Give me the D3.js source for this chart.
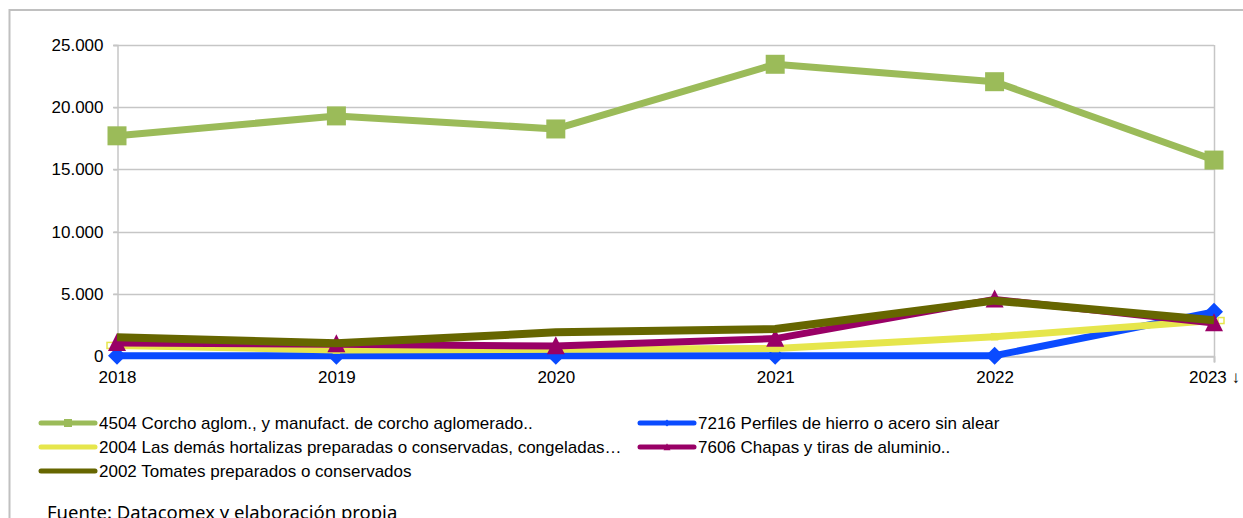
<!DOCTYPE html>
<html>
<head>
<meta charset="utf-8">
<script src="https://cdn.jsdelivr.net/npm/d3@7"></script>
<style>
  body { margin: 0; background: #fff; }
  svg { display: block; }
  .tick text { font-family: "Liberation Sans", Arial, sans-serif; font-size: 17px; fill: #000; }
  .legend text { font-family: "Liberation Sans", Arial, sans-serif; font-size: 17px; fill: #000; }
  .source { font-family: "Noto Sans", sans-serif; font-size: 18.5px; fill: #000; }
</style>
</head>
<body>
<svg width="1243" height="518"></svg>
<script>
// **** Data ****
var years = ["2018", "2019", "2020", "2021", "2022", "2023"];
var yearLabels = ["2018", "2019", "2020", "2021", "2022", "2023 \u2193"];
var yTicks = [0, 5000, 10000, 15000, 20000, 25000];

var corcho = [17700, 19300, 18250, 23450, 22050, 15750];   // 4504
var perfiles = [30, 30, 30, 30, 30, 3550];                 // 7216
var hortalizas = [850, 480, 540, 600, 1550, 2850];         // 2004
var chapas = [1050, 950, 800, 1400, 4550, 2650];           // 7606
var tomates = [1500, 1020, 1900, 2170, 4450, 2880];        // 2002

var seriesNames = [
  "4504 Corcho aglom., y manufact. de corcho aglomerado..",
  "7216 Perfiles de hierro o acero sin alear",
  "2004 Las dem\u00e1s hortalizas preparadas o conservadas, congeladas\u2026",
  "7606 Chapas y tiras de aluminio..",
  "2002 Tomates preparados o conservados"
];

// series built from the arrays above (draw order = excel order)
var series = [
  { name: seriesNames[0], values: corcho, color: "#9bbb59", marker: "square", width: 7 },
  { name: seriesNames[1], values: perfiles, color: "#0a4bff", marker: "diamond", width: 7 },
  { name: seriesNames[2], values: hortalizas, color: "#e6e64c", marker: "small", width: 7 },
  { name: seriesNames[3], values: chapas, color: "#990066", marker: "triangle", width: 7 },
  { name: seriesNames[4], values: tomates, color: "#666600", marker: "none", width: 8 }
];

var svg = d3.select("svg");

// outer chart border (right and bottom run off the picture)
svg.append("rect")
  .attr("x", 9.5).attr("y", 10)
  .attr("width", 1300).attr("height", 600)
  .attr("fill", "none")
  .attr("stroke", "#c0c0c0")
  .attr("stroke-width", 2);

// **** Scales ****
var x = d3.scalePoint()
  .domain(years)
  .range([117, 1214]);

var y = d3.scaleLinear()
  .domain([0, 25000])
  .range([356, 45]);

// gridlines
svg.append("g")
  .selectAll("line")
  .data(yTicks)
  .enter()
  .append("line")
  .attr("x1", 113).attr("x2", 1214)
  .attr("y1", d => Math.round(y(d)) + 0.5)
  .attr("y2", d => Math.round(y(d)) + 0.5)
  .attr("stroke", "#c6c6c6")
  .attr("stroke-width", 1.5);

// right border of plot area
svg.append("line")
  .attr("x1", 1214.5).attr("x2", 1214.5)
  .attr("y1", 45).attr("y2", 362)
  .attr("stroke", "#c6c6c6")
  .attr("stroke-width", 1.5);

// Y axis
var yAxis = d3.axisLeft(y)
  .tickValues(yTicks)
  .tickSize(4)
  .tickPadding(10)
  .tickFormat(d => d3.format(",")(d).replace(/,/g, "."));
var gy = svg.append("g")
  .attr("transform", "translate(117.5,0)")
  .call(yAxis);
gy.select(".domain").attr("stroke", "#c6c6c6").attr("stroke-width", 1.5);
gy.selectAll(".tick line").attr("stroke", "#c6c6c6").attr("stroke-width", 1.5);

// X axis
var xAxis = d3.axisBottom(x)
  .tickSize(6)
  .tickPadding(8)
  .tickFormat((d, i) => yearLabels[i]);
var gx = svg.append("g")
  .attr("transform", "translate(0,356.5)")
  .call(xAxis);
gx.select(".domain").attr("stroke", "#c6c6c6").attr("stroke-width", 1.5);
gx.selectAll(".tick line").attr("stroke", "#c6c6c6").attr("stroke-width", 1.5);

// **** Lines and markers ****
var line = d3.line()
  .x((d, i) => x(years[i]))
  .y(d => y(d));

function markerPath(type, size) {
  if (type === "square") return d3.symbol(d3.symbolSquare, size * size)();
  if (type === "diamond") {
    var h = size / 2;
    return "M0," + (-h) + "L" + h + ",0L0," + h + "L" + (-h) + ",0Z";
  }
  if (type === "triangle") {
    var w = size / 2;
    return "M0," + (-size * 0.55) + "L" + w + "," + (size * 0.45) + "L" + (-w) + "," + (size * 0.45) + "Z";
  }
  return null;
}

var last = years.length - 1;

series.forEach(function(s) {
  var g = svg.append("g");
  g.append("path")
    .datum(s.values)
    .attr("d", line)
    .attr("fill", "none")
    .attr("stroke", s.color)
    .attr("stroke-width", s.width)
    .attr("stroke-linejoin", "round");

  if (s.marker === "small") {
    // small hollow squares; the end ones peek out beyond the line ends
    g.selectAll("rect")
      .data(s.values)
      .enter()
      .append("rect")
      .attr("x", (d, i) => x(years[i]) - 3 + (i === 0 ? -7 : i === last ? 7 : 0))
      .attr("y", d => y(d) - 3)
      .attr("width", 6).attr("height", 6)
      .attr("fill", (d, i) => (i === 0 || i === last) ? "#fff" : "none")
      .attr("stroke", s.color)
      .attr("stroke-width", 1.5);
  } else if (s.marker !== "none") {
    var size = s.marker === "square" ? 19 : 18;
    g.selectAll(".mk")
      .data(s.values)
      .enter()
      .append("path")
      .attr("class", "mk")
      .attr("transform", (d, i) => "translate(" + x(years[i]) + "," + y(d) + ")")
      .attr("d", markerPath(s.marker, size))
      .attr("fill", s.color);
  }
});

// **** Legend ****
var legendPos = [
  { x: 41, y: 423 }, { x: 640, y: 423 },
  { x: 41, y: 447 }, { x: 640, y: 447 },
  { x: 41, y: 471 }
];

var legend = svg.append("g").attr("class", "legend");
series.forEach(function(s, i) {
  var p = legendPos[i];
  var item = legend.append("g").attr("transform", "translate(" + p.x + "," + p.y + ")");
  item.append("line")
    .attr("x1", 0).attr("x2", 54)
    .attr("y1", 0).attr("y2", 0)
    .attr("stroke", s.color)
    .attr("stroke-width", 5)
    .attr("stroke-linecap", "round");
  if (s.marker === "square" || s.marker === "diamond" || s.marker === "triangle") {
    item.append("path")
      .attr("transform", "translate(27,0)")
      .attr("d", markerPath(s.marker, s.marker === "square" ? 8 : 7))
      .attr("fill", s.color);
  }
  item.append("text")
    .attr("x", 58)
    .attr("y", 6)
    .text(s.name);
});

// Source (cut off at the bottom edge, as in the original)
svg.append("text")
  .attr("class", "source")
  .attr("x", 47)
  .attr("y", 519)
  .text("Fuente: Datacomex y elaboraci\u00f3n propia");
</script>
</body>
</html>
